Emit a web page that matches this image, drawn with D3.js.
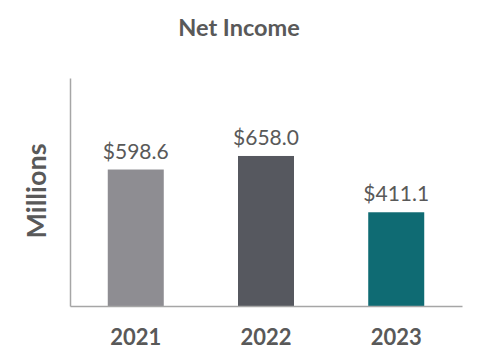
<!DOCTYPE html>
<html>
<head>
<meta charset="utf-8">
<script src="https://cdn.jsdelivr.net/npm/d3@7"></script>
<style>
  body { margin: 0; background: #fff; }
  text { font-family: Lato, "Open Sans", sans-serif; }
</style>
</head>
<body>
<div class="chart"></div>
<script>
// data
var years = ["2021", "2022", "2023"];
var netIncome = [598.6, 658.0, 411.1];
var barColors = ["#8e8d92", "#56585f", "#0f6b73"];

var width = 480, height = 364;

var svg = d3.select(".chart").append("svg")
  .attr("width", width)
  .attr("height", height);

// scales
var x = d3.scaleBand()
  .domain(years)
  .range([70, 462])
  .paddingInner(0.57)
  .paddingOuter(0.29);

var y = d3.scaleLinear()
  .domain([0, 1000])
  .range([306, 78]);

// title
svg.append("text")
  .attr("x", 239)
  .attr("y", 36)
  .attr("text-anchor", "middle")
  .attr("font-size", 23.5)
  .attr("font-weight", "bold")
  .attr("fill", "#595959")
  .text("Net Income");

// y axis title
svg.append("text")
  .attr("transform", "translate(46,191) rotate(-90)")
  .attr("text-anchor", "middle")
  .attr("font-size", 27)
  .attr("font-weight", "bold")
  .attr("fill", "#595959")
  .text("Millions");

// bars
svg.selectAll("rect.bar")
  .data(netIncome)
  .enter().append("rect")
    .attr("class", "bar")
    .attr("x", function(d, i){ return x(years[i]); })
    .attr("width", x.bandwidth())
    .attr("y", function(d){ return y(d); })
    .attr("height", function(d){ return y(0) - y(d); })
    .attr("fill", function(d, i){ return barColors[i]; });

// value labels
svg.selectAll("text.val")
  .data(netIncome)
  .enter().append("text")
    .attr("class", "val")
    .attr("x", function(d, i){ return x(years[i]) + x.bandwidth() / 2; })
    .attr("y", function(d){ return y(d) - 11; })
    .attr("text-anchor", "middle")
    .attr("font-size", 21)
    .attr("fill", "#595959")
    .text(function(d){ return "$" + d.toFixed(1); });

// axes (lines only)
var yAxis = d3.axisLeft(y).ticks(0).tickSize(0).tickFormat("");
svg.append("g")
  .attr("class", "axis y")
  .attr("transform", "translate(70,0)")
  .call(yAxis)
  .select(".domain")
    .attr("stroke", "#a6a6a6")
    .attr("stroke-width", 1.5);

var xAxis = d3.axisBottom(x).tickSize(0).tickPadding(23);
var gx = svg.append("g")
  .attr("class", "axis x")
  .attr("transform", "translate(0,306)")
  .call(xAxis);
gx.select(".domain")
  .attr("stroke", "#a6a6a6")
  .attr("stroke-width", 1.5);
gx.selectAll("text")
  .attr("font-family", "Lato, 'Open Sans', sans-serif")
  .attr("font-size", 22)
  .attr("font-weight", "bold")
  .attr("fill", "#595959");
</script>
</body>
</html>
